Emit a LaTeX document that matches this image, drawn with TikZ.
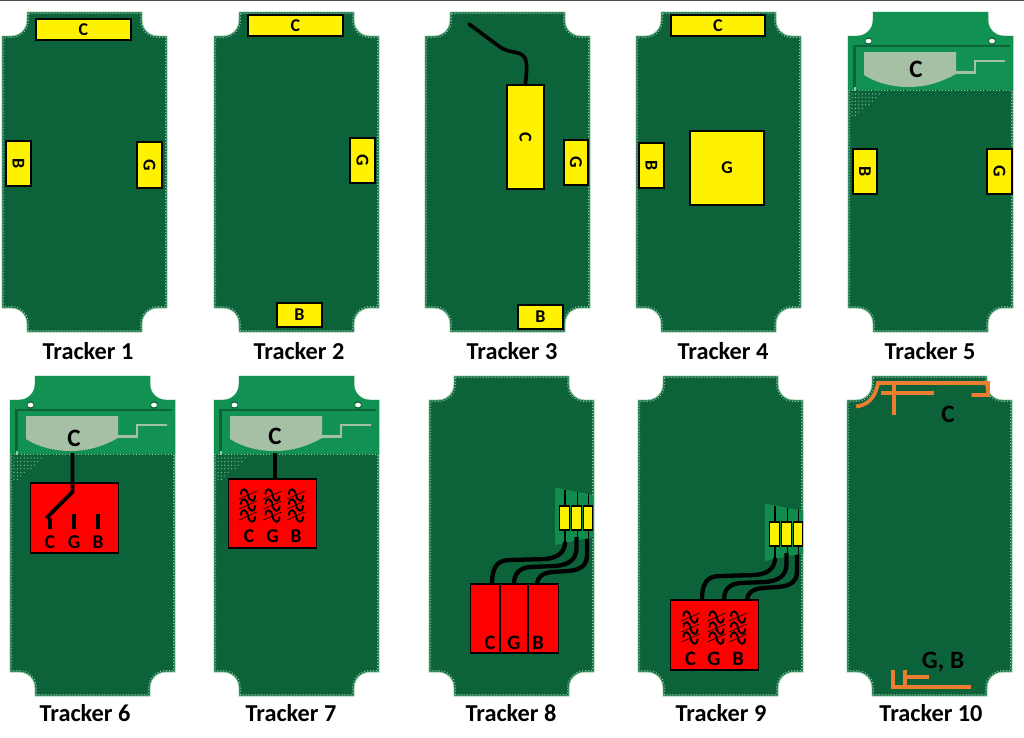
\documentclass[tikz,border=0pt]{standalone}
\usepackage{fontspec}
\setmainfont{Carlito}
\definecolor{pcb}{HTML}{0D6339}
\definecolor{pcblight}{HTML}{129252}
\definecolor{edgepale}{HTML}{8FCCA6}
\definecolor{patch}{HTML}{A5C0A5}
\definecolor{trace}{HTML}{ED7D31}
\newcommand{\boardoutline}{(25,0) -- (140,0) -- (140,8) .. controls (140,17) and (147,24) .. (156,24) -- (165,24) -- (165,296) -- (156,296) .. controls (147,296) and (140,303) .. (140,312) -- (140,320) -- (25,320) -- (25,312) .. controls (25,303) and (18,296) .. (9,296) -- (0,296) -- (0,24) -- (9,24) .. controls (18,24) and (25,17) .. (25,8) -- cycle}
\newcommand{\boardinner}{(26.5,1.5) -- (138.5,1.5) -- (138.5,8) .. controls (138.5,18) and (146,25.5) .. (156,25.5) -- (163.5,25.5) -- (163.5,294.5) -- (156,294.5) .. controls (146,294.5) and (138.5,302) .. (138.5,312) -- (138.5,318.5) -- (26.5,318.5) -- (26.5,312) .. controls (26.5,302) and (19,294.5) .. (9,294.5) -- (1.5,294.5) -- (1.5,25.5) -- (9,25.5) .. controls (19,25.5) and (26.5,18) .. (26.5,8) -- cycle}
\tikzset{
  x=1pt,y=-1pt,
  pcbbase/.style={fill=pcb,draw=edgepale,line width=.8pt},
  pcbdots/.style={draw=edgepale,line width=1pt,dash pattern=on 1pt off 2pt},
  titlelabel/.style={font=\fontsize{24.3}{26}\selectfont\bfseries,text=black,inner sep=0pt},
  bigletter/.style={font=\fontsize{25}{27}\selectfont\bfseries,text=black,inner sep=0pt},
  midletter/.style={font=\fontsize{20.5}{22}\selectfont\bfseries,text=black,inner sep=0pt},
  smallletter/.style={font=\fontsize{19.5}{21}\selectfont\bfseries,text=black,inner sep=0pt},
  yellowbox/.style={draw=black,fill=yellow,line width=1.3pt,inner sep=0pt,font=\fontsize{18}{20}\selectfont\bfseries},
  redbox/.style={draw=black,fill=red,line width=1.4pt},
  heavywire/.style={draw=black,line width=3.8pt},
  wire/.style={draw=black,line width=3.6pt,line cap=round},
  widewire/.style={draw=black,line width=4.3pt},
  thinwire/.style={draw=black,line width=1.2pt},
  tracepath/.style={draw=trace,line width=3.8pt},
}
\newcommand{\plainboard}[2]{%
  \begin{scope}[shift={(#1,#2)}]
    \path[pcbbase] \boardoutline;
    \path[pcbdots] \boardinner;
  \end{scope}}
\newcommand{\antennaboard}[2]{%
  \begin{scope}[shift={(#1,#2)}]
    \path[pcbbase] \boardoutline;
    \path[pcbdots] \boardinner;
    \begin{scope}
      \clip \boardoutline;
      \fill[pcblight] (-1,-1) rectangle (166,78);
    \end{scope}
    \fill[pcb] (20.5,29) circle (3.8);
    \fill[pcb] (144,29) circle (3.8);
    \fill[white] (20.5,29) ellipse (3 and 2.3);
    \fill[white] (144,29) ellipse (3 and 2.3);
    \draw[pcb,line width=2.6pt] (162,34) -- (6.5,34) -- (6.5,76);
    \fill[edgepale] (5.5,75) rectangle (7.5,79);
    \fill[patch] (16,40) -- (108,40) -- (108,62) .. controls (90,72) and (75,75) .. (60.5,75) .. controls (45,75) and (28,71) .. (16,63) -- cycle;
    \draw[patch,line width=2.2pt] (107,60.5) -- (127,60.5) -- (127,49) -- (157,49);
    \draw[edgepale,line width=1pt,dash pattern=on 1pt off 2.2pt] (1,78.5) -- (164,78.5);
    \foreach \r in {0,...,6} {
      \pgfmathsetmacro{\xend}{33-4*\r}
      \foreach \c in {4,7.4,...,\xend} {
        \fill[edgepale] (\c,{82+3.6*\r}) circle (.6);
      }
    }
  \end{scope}}
\newcommand{\filtersym}[2]{%
  \draw[black,line width=1.9pt,line cap=round] (#1-7,#2-1) .. controls (#1-7,#2-8) and (#1-1,#2-7) .. (#1,#2) .. controls (#1+1,#2+7) and (#1+7,#2+8) .. (#1+7,#2+1);
  \draw[black,line width=.6pt] (#1-9,#2+4) -- (#1+9,#2-4);}
\newcommand{\threewires}{%
\draw[widewire] (565,542) .. controls (565,552) and (558,558) .. (545,559) -- (510,560) .. controls (498,560) and (492,566) .. (492,584);
\draw[widewire] (576.5,537) -- (576.5,548) .. controls (576.5,560) and (568,565) .. (555,566) -- (530,567) .. controls (519,568) and (514,574) .. (514,584);
\draw[widewire] (587,539) -- (587,555) .. controls (587,566) and (580,570) .. (568,571) -- (552,572) .. controls (542,573) and (537,578) .. (537,584);}
\begin{document}
\begin{tikzpicture}
\useasboundingbox (0,0) rectangle (1024,737);
\fill[white] (0,0) rectangle (1024,737);
\draw[black!70,line width=1pt] (0,0.4) -- (1024,0.4);

\plainboard{2}{12}
\plainboard{214}{12}
\plainboard{425}{12}
\plainboard{636}{12}
\antennaboard{848}{12}
\antennaboard{10}{376}
\antennaboard{214}{376}
\plainboard{429}{376}
\plainboard{638}{376}
\plainboard{847}{376}

% Tracker 1
\node[yellowbox,minimum width=95pt,minimum height=21pt] (a1c) at (83.5,29.5) {C};
\node[yellowbox,minimum width=25pt,minimum height=46pt] (a1g) at (149.5,165) {\rotatebox{-90}{G}};
\node[yellowbox,minimum width=25pt,minimum height=45pt] (a1b) at (18.5,163.5) {\rotatebox{-90}{B}};
\node[titlelabel] (t1) at (88,351) {Tracker 1};
% Tracker 2
\node[yellowbox,minimum width=95pt,minimum height=21pt] (a2c) at (295.5,25.5) {C};
\node[yellowbox,minimum width=25pt,minimum height=45pt] (a2g) at (362.5,160.5) {\rotatebox{-90}{G}};
\node[yellowbox,minimum width=45pt,minimum height=24pt] (a2b) at (299.5,315) {B};
\node[titlelabel] (t2) at (299,351) {Tracker 2};
% Tracker 3
\node[yellowbox,minimum width=37pt,minimum height=104pt] (a3c) at (525.5,137) {\rotatebox{-90}{C}};
\node[yellowbox,minimum width=24pt,minimum height=45pt] (a3g) at (576,162.5) {\rotatebox{-90}{G}};
\node[yellowbox,minimum width=45pt,minimum height=24pt] (a3b) at (540.5,317) {B};
\coordinate (a3end) at (469,24);
\draw[wire] (a3end) -- (500,47) .. controls (510,54) and (520,50) .. (525,58) .. controls (528,65) and (526,75) .. (a3c.north);
\node[titlelabel] (t3) at (512,351) {Tracker 3};
% Tracker 4
\node[yellowbox,minimum width=94pt,minimum height=21pt] (a4c) at (718,25.5) {C};
\node[yellowbox,minimum width=74pt,minimum height=74pt] (a4g) at (727,168) {G};
\node[yellowbox,minimum width=25pt,minimum height=45pt] (a4b) at (651.5,165.5) {\rotatebox{-90}{B}};
\node[titlelabel] (t4) at (723,351) {Tracker 4};
% Tracker 5
\node[bigletter] (a5c) at (916,69) {C};
\node[yellowbox,minimum width=25pt,minimum height=45pt] (a5g) at (999.5,171.5) {\rotatebox{-90}{G}};
\node[yellowbox,minimum width=24pt,minimum height=45pt] (a5b) at (865,171.5) {\rotatebox{-90}{B}};
\node[titlelabel] (t5) at (930,351) {Tracker 5};
% Tracker 6
\node[redbox,minimum width=88pt,minimum height=70pt,inner sep=0pt] (a6box) at (74.5,518) {};
\coordinate (a6feed) at (72.5,453);
\draw[heavywire,line join=round] (a6feed) -- (72.5,492) -- (46.5,518);
\draw[black,line width=3.4pt] (50,518) -- (50,529);
\draw[black,line width=3.4pt] (74,514) -- (74,529);
\draw[black,line width=3.4pt] (98,514) -- (98,529);
\node[bigletter] (a6c) at (74,438) {C};
\node[smallletter] (a6l1) at (50,542) {C};
\node[smallletter] (a6l2) at (74,542) {G};
\node[smallletter] (a6l3) at (98,542) {B};
\node[titlelabel] (t6) at (85,713) {Tracker 6};
% Tracker 7
\node[redbox,minimum width=88pt,minimum height=69pt,inner sep=0pt] (a7box) at (272.5,513.5) {};
\coordinate (a7feed) at (275,453);
\draw[heavywire] (a7feed) -- (a7feed |- a7box.north);
\foreach \cx in {248,272.5,296} \foreach \cy in {495,505,516} { \filtersym{\cx}{\cy} }
\node[bigletter] (a7c) at (275,436) {C};
\node[smallletter] (a7l1) at (249,536) {C};
\node[smallletter] (a7l2) at (272.5,536) {G};
\node[smallletter] (a7l3) at (296,536) {B};
\node[titlelabel] (t7) at (291,713) {Tracker 7};
% Tracker 8
\fill[pcblight!85!pcb] (555,487.5) -- (593,495) -- (593,537) -- (555,545) -- cycle;
\foreach \xx/\yt/\yb in {565/490/542,577.5/492/538,588.5/494/539} \draw[thinwire] (\xx,\yt) -- (\xx,\yb);
\node[yellowbox,minimum width=9.5pt,minimum height=24pt] (a8y1) at (564.5,518) {};
\node[yellowbox,minimum width=9.5pt,minimum height=24pt] (a8y2) at (576.5,518) {};
\node[yellowbox,minimum width=9.5pt,minimum height=24pt] (a8y3) at (588,518) {};
\node[redbox,minimum width=88pt,minimum height=69pt,inner sep=0pt] (a8box) at (514.5,618.5) {};
\draw[black,line width=1.4pt] (500,584) -- (500,653) (528,584) -- (528,653);
\threewires
\node[midletter] (a8l1) at (490,642.5) {C};
\node[midletter] (a8l2) at (514,642.5) {G};
\node[midletter] (a8l3) at (538,642.5) {B};
\node[titlelabel] (t8) at (511,713) {Tracker 8};
% Tracker 9
\begin{scope}[shift={(210,16)}]
\fill[pcblight!85!pcb] (555,487.5) -- (593,495) -- (593,537) -- (555,545) -- cycle;
\foreach \xx/\yt/\yb in {565/490/542,577.5/492/538,588.5/494/539} \draw[thinwire] (\xx,\yt) -- (\xx,\yb);
\node[yellowbox,minimum width=9.5pt,minimum height=24pt] (a9y1) at (564.5,518) {};
\node[yellowbox,minimum width=9.5pt,minimum height=24pt] (a9y2) at (576.5,518) {};
\node[yellowbox,minimum width=9.5pt,minimum height=24pt] (a9y3) at (588,518) {};
\end{scope}
\node[redbox,minimum width=88pt,minimum height=70pt,inner sep=0pt] (a9box) at (714.5,635) {};
\begin{scope}[shift={(210,16)}]
\threewires
\end{scope}
\foreach \cx in {690.5,716.5,738} \foreach \cy in {617,628,638} { \filtersym{\cx}{\cy} }
\node[midletter] (a9l1) at (690.5,658.5) {C};
\node[midletter] (a9l2) at (714,658.5) {G};
\node[midletter] (a9l3) at (738,658.5) {B};
\node[titlelabel] (t9) at (721,713) {Tracker 9};
% Tracker 10
\draw[tracepath] (856,406.5) .. controls (868,405) and (875,398) .. (878,383) -- (988,383) -- (988,395) -- (971.5,395);
\draw[tracepath] (881,393.3) -- (934,393.3);
\draw[tracepath] (894,383) -- (894,415);
\draw[tracepath] (893,670) -- (893,687) -- (971,687);
\draw[tracepath] (905,670) -- (905,687);
\draw[tracepath] (905,677) -- (929,677);
\node[bigletter] (a10c) at (948,414) {C};
\node[bigletter] (a10b) at (943,661.5) {G, B};
\node[titlelabel] (t10) at (931,713) {Tracker 10};
\end{tikzpicture}
\end{document}
